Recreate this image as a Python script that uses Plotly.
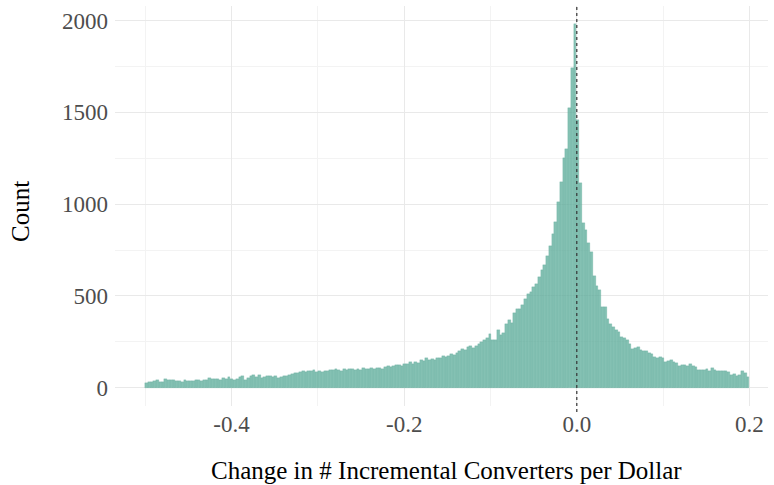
import plotly.graph_objects as go

# Histogram data (bins from -0.5 to 0.2)
bin_start = -0.5
bin_end = 0.2
counts = [
    28, 32, 30, 36, 40, 31, 30, 48, 42, 45,
    44, 38, 36, 34, 40, 38, 37, 35, 40, 42,
    38, 42, 44, 52, 48, 50, 46, 44, 52, 48,
    58, 50, 42, 48, 60, 62, 45, 55, 62, 70,
    60, 68, 55, 58, 62, 66, 60, 64, 56, 58,
    62, 66, 72, 75, 80, 78, 85, 90, 84, 92,
    90, 95, 88, 92, 86, 94, 92, 98, 96, 100,
    95, 92, 100, 97, 104, 100, 95, 102, 98, 106,
    100, 104, 108, 102, 106, 110, 104, 112, 118, 116,
    120, 125, 122, 118, 130, 128, 138, 132, 140, 135,
    150, 145, 160, 152, 158, 150, 165, 160, 172, 168,
    175, 185, 180, 190, 200, 210, 205, 222, 228, 218,
    230, 240, 250, 262, 272, 292, 258, 262, 316, 285,
    300, 345, 372, 355, 405, 430, 428, 452, 482, 510,
    520, 550, 565, 605, 640, 670, 720, 770, 835, 905,
    1010, 1120, 1250, 1300, 1525, 1742, 1980,
    1460, 1115, 900, 860, 790, 740, 610, 555, 530, 440,
    440, 375, 350, 330, 316, 305, 278, 270, 258, 240,
    212, 218, 225, 205, 198, 200, 190, 182, 170, 165,
    168, 160, 140, 145, 150, 140, 136, 118, 125, 126,
    120, 130, 118, 112, 95, 95, 96, 104, 92, 107,
    98, 92, 90, 89, 90, 84, 72, 76, 65, 72,
    90, 78, 60,
]
x_ticks = [-0.4, -0.2, 0.0, 0.2]
x_tick_labels = ["-0.4", "-0.2", "0.0", "0.2"]
y_ticks = [0, 500, 1000, 1500, 2000]
y_tick_labels = ["0", "500", "1000", "1500", "2000"]
x_title = "Change in # Incremental Converters per Dollar"
y_title = "Count"

n = len(counts)
bw = (bin_end - bin_start) / n
centers = [bin_start + bw * (i + 0.5) for i in range(n)]

font_family = "Liberation Serif, Times New Roman, serif"

fig = go.Figure()
fig.add_trace(go.Bar(
    x=centers, y=counts, width=bw,
    marker=dict(color="rgba(105,179,162,0.82)",
                line=dict(color="rgba(90,165,148,0.6)", width=0.4)),
    hoverinfo="skip",
))

fig.add_shape(type="line", xref="x", yref="paper", x0=0, x1=0, y0=-0.015, y1=1.0,
              line=dict(color="#333333", width=1.2, dash="dot"))

grid_major = "#e9e9e9"
grid_minor = "#f3f3f3"

fig.add_annotation(text=x_title, xref="paper", yref="paper", x=0.5, y=0,
                   xanchor="center", yanchor="middle", xshift=5, yshift=-64,
                   showarrow=False,
                   font=dict(size=25, color="black", family=font_family))
fig.add_annotation(text=y_title, xref="paper", yref="paper", x=0, y=0.5,
                   xanchor="center", yanchor="middle", xshift=-95, yshift=-6,
                   textangle=-90, showarrow=False,
                   font=dict(size=25, color="black", family=font_family))

fig.update_layout(
    width=774, height=485,
    margin=dict(l=115, r=6, t=6, b=79),
    plot_bgcolor="white", paper_bgcolor="white",
    showlegend=False, bargap=0,
    font=dict(family=font_family, color="#4d4d4d", size=23),
    xaxis=dict(
        range=[-0.535, 0.2215], automargin=False,
        tickvals=x_ticks, ticktext=x_tick_labels,
        showgrid=True, gridcolor=grid_major, gridwidth=1.1,
        zeroline=False, showline=False, ticks="",
        tickfont=dict(size=23, color="#4d4d4d", family=font_family),
        ticklabelstandoff=2,
        minor=dict(tickvals=[-0.5, -0.3, -0.1, 0.1], showgrid=True,
                   gridcolor=grid_minor, gridwidth=0.6, ticks=""),
    ),
    yaxis=dict(
        range=[-99, 2079], automargin=False,
        tickvals=y_ticks, ticktext=y_tick_labels,
        showgrid=True, gridcolor=grid_major, gridwidth=1.1,
        zeroline=False, showline=False, ticks="",
        tickfont=dict(size=23, color="#4d4d4d", family=font_family),
        ticklabelstandoff=6,
        minor=dict(tickvals=[250, 750, 1250, 1750], showgrid=True,
                   gridcolor=grid_minor, gridwidth=0.6, ticks=""),
    ),
)

fig.write_html(
    "out.html",
    config={"displayModeBar": False},
    post_script="document.body.style.margin='0px';document.body.style.padding='0px';",
)
